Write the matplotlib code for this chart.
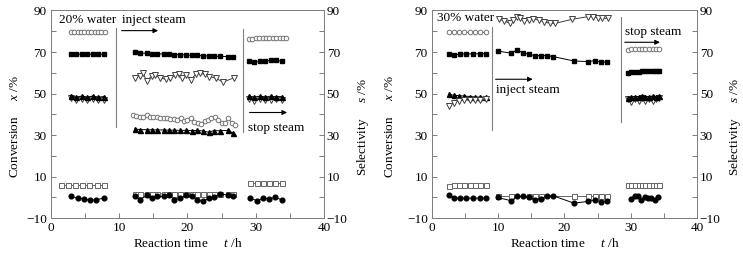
import matplotlib
matplotlib.use('Agg')
import matplotlib.pyplot as plt

plt.rcParams['font.family'] = 'Liberation Serif'
plt.rcParams['font.size'] = 9
plt.rcParams['mathtext.fontset'] = 'custom'
plt.rcParams['mathtext.rm'] = 'Liberation Serif'
plt.rcParams['mathtext.it'] = 'Liberation Serif:italic'

# ---- left panel (20% water) ----
a1_t = [2.9, 3.7, 4.5, 5.3, 6.1, 6.9, 7.8]
a1_sq = [68.9, 68.9, 69.0, 68.9, 69.0, 69.0, 68.9]
a1_tri = [48.8, 48.3, 48.8, 48.3, 48.8, 48.3, 48.6]
a1_dt = [47.8, 47.0, 47.5, 46.8, 47.6, 47.0, 46.8]
a1_oc_t = [2.9, 3.4, 3.9, 4.4, 4.9, 5.4, 5.9, 6.4, 6.9, 7.4, 7.9]
a1_oc = [79.5, 79.5, 79.5, 79.5, 79.5, 79.5, 79.5, 79.5, 79.5, 79.6, 79.6]
a1_osq_t = [1.5, 2.5, 3.5, 4.6, 5.6, 6.7, 7.8]
a1_osq = [6.1, 6.1, 6.1, 6.1, 6.1, 6.1, 6.1]
a1_fc_t = [2.9, 3.9, 4.8, 5.7, 6.6, 7.7]
a1_fc = [0.5, -0.3, -0.6, -1.4, -1.1, -0.3]

a2_t = [12.3, 13.1, 14.0, 14.8, 15.6, 16.5, 17.3, 18.1, 18.9, 19.8,
        20.6, 21.4, 22.3, 23.1, 23.9, 24.7, 25.9, 26.7]
a2_sq = [69.8, 69.5, 69.4, 69.2, 69.2, 69.0, 68.9, 68.8, 68.7, 68.6,
         68.5, 68.4, 68.2, 68.1, 68.0, 67.9, 67.8, 67.4]
a2_tri = [32.9, 32.7, 32.6, 32.6, 32.5, 32.5, 32.4, 32.4, 32.3, 32.3,
          32.2, 32.3, 32.0, 31.4, 32.2, 32.1, 32.3, 31.0]
a2_osq = [1.8, 1.8, 1.8, 1.8, 1.8, 1.8, 1.8, 1.8, 1.8, 1.8,
          1.8, 1.8, 1.8, 1.8, 1.6, 1.5, 1.5, 1.5]
a2_fc = [0.5, -1.1, 1.0, -0.3, 0.5, 0.5, 1.0, -1.1, -0.3, 1.0,
         0.5, -1.1, -1.9, -0.3, 0.3, 1.6, 1.3, 0.5]
a2_dt_t = [12.3, 13.0, 13.5, 14.0, 14.8, 15.3, 16.0, 16.8, 17.5, 18.2, 18.7,
           19.2, 19.8, 20.5, 21.2, 21.9, 22.5, 23.2, 24.2, 25.2, 26.8]
a2_dt = [57.4, 58.6, 59.8, 56.2, 58.5, 59.0, 57.4, 57.0, 57.7, 58.8, 59.5,
         57.7, 59.0, 56.6, 59.3, 59.8, 59.2, 58.2, 57.4, 55.5, 57.6]
a2_oc_t = [12.0, 12.5, 13.0, 13.5, 14.0, 14.5, 15.0, 15.5, 16.0, 16.5, 17.0,
           17.5, 18.0, 18.5, 19.0, 19.5, 20.0, 20.5, 21.0, 21.5, 22.0, 22.5,
           23.0, 23.5, 24.0, 24.5, 25.0, 25.5, 26.0, 26.5, 27.0]
a2_oc = [39.8, 39.3, 38.5, 38.9, 39.6, 38.5, 38.5, 38.5, 38.2, 38.2, 38.2,
         37.8, 37.8, 37.4, 38.2, 36.9, 37.4, 38.2, 36.5, 35.8, 35.4, 36.9,
         37.4, 38.2, 38.5, 37.4, 35.8, 35.8, 38.2, 35.8, 35.0]

a3_t = [29.0, 29.8, 30.6, 31.4, 32.2, 33.0, 33.8]
a3_sq = [65.5, 65.0, 65.6, 65.6, 66.0, 66.0, 65.6]
a3_tri = [48.8, 48.3, 48.8, 48.3, 48.8, 48.3, 48.6]
a3_dt = [47.5, 46.6, 47.5, 46.8, 46.8, 47.5, 47.0]
a3_oc_t = [29.0, 29.5, 30.0, 30.5, 31.0, 31.5, 32.0, 32.5, 33.0, 33.5, 34.0, 34.5]
a3_oc = [76.3, 76.5, 76.6, 76.6, 76.6, 76.6, 76.6, 76.6, 76.6, 76.6, 76.7, 76.7]
a3_b_t = [29.2, 30.2, 31.1, 32.0, 32.9, 33.8]
a3_osq = [6.9, 6.9, 6.9, 6.9, 6.9, 6.9]
a3_fc = [-0.3, -1.6, -0.3, -0.6, 0.0, -1.1]

# ---- right panel (30% water) ----
b1_t = [2.5, 3.3, 4.3, 5.2, 6.2, 7.2, 8.2]
b1_sq = [68.9, 68.7, 69.0, 69.1, 69.1, 69.2, 69.2]
b1_fc = [1.3, -0.3, -0.3, -0.3, -0.3, -0.3, -0.3]
b1_t8 = [2.5, 3.3, 4.1, 4.9, 5.7, 6.5, 7.3, 8.1]
b1_oc = [79.8, 79.8, 79.8, 79.8, 79.8, 79.8, 79.8, 79.8]
b1_tri = [49.7, 49.2, 49.0, 48.8, 48.6, 48.4, 48.3, 48.3]
b1_dt = [44.1, 45.7, 46.5, 46.8, 47.0, 47.0, 47.0, 47.2]
b1_osq = [5.5, 6.1, 6.1, 6.1, 6.1, 6.1, 6.1, 6.1]

b2_t = [9.9, 12.0, 12.8, 13.7, 14.6, 15.5, 16.4, 17.4, 18.3, 21.4, 23.6, 24.6, 25.5, 26.4]
b2_sq = [70.5, 69.4, 71.0, 69.7, 68.9, 68.3, 68.3, 68.3, 67.8, 65.7, 65.4, 65.9, 65.2, 65.2]
b2_fc = [0.0, -1.6, 0.5, 0.5, 0.0, -1.1, -0.6, 0.8, 0.8, -2.7, -1.9, -1.1, -2.2, -1.6]
b2_osq_t = [9.9, 12.0, 14.6, 15.5, 16.4, 21.4, 23.6, 24.6, 25.5, 26.4]
b2_osq = [0.8, 0.8, 0.8, 0.8, 0.8, 0.8, 0.8, 0.8, 0.8, 0.8]
b2_dt_t = [10.1, 10.8, 11.8, 12.3, 12.8, 13.3, 13.9, 14.6, 15.3, 16.1,
           16.9, 17.8, 18.6, 21.2, 23.5, 24.3, 25.0, 25.7, 26.5]
b2_dt = [85.8, 85.1, 83.8, 85.4, 87.0, 86.2, 85.1, 85.4, 85.8, 85.4,
         84.6, 83.8, 83.8, 85.8, 87.0, 87.0, 86.5, 86.2, 86.2]

b3_t = [29.6, 30.1, 30.6, 31.2, 31.7, 32.2, 32.7, 33.3, 33.8, 34.3]
b3_oc = [70.8, 71.3, 71.4, 71.4, 71.4, 71.4, 71.4, 71.4, 71.5, 71.5]
b3_sq = [60.1, 60.4, 60.6, 60.6, 60.7, 60.7, 60.7, 60.7, 60.7, 60.7]
b3_tri = [48.0, 48.3, 48.6, 48.6, 48.8, 48.6, 48.6, 48.8, 48.6, 49.0]
b3_dt = [47.5, 45.8, 47.5, 46.5, 47.8, 46.2, 47.5, 46.2, 47.5, 47.8]
b3_osq = [6.1, 6.1, 6.1, 6.1, 6.1, 6.1, 6.1, 6.1, 6.1, 6.1]
b3_fc_t = [30.1, 30.6, 31.1, 31.6, 32.1, 32.6, 33.1, 33.6, 34.1]
b3_fc = [-0.8, 0.5, 0.8, -1.1, 0.0, -0.3, -0.3, -1.1, 0.0]

styles = {
    'sq': dict(marker='s', mfc='k', mec='k', ms=3.2, color='k'),
    'tri': dict(marker='^', mfc='k', mec='k', ms=3.6, color='k'),
    'fc': dict(marker='o', mfc='k', mec='k', ms=3.4, color='k'),
    'oc': dict(marker='o', mfc='white', mec='0.45', ms=3.3, mew=0.7, color='0.4'),
    'dt': dict(marker='v', mfc='white', mec='0.25', ms=4.2, mew=0.7, color='0.25'),
    'osq': dict(marker='s', mfc='white', mec='0.4', ms=3.6, mew=0.7, color='0.4'),
}


def seg(ax, t, y, kind):
    ax.plot(t, y, lw=0.7, **styles[kind])


def frame(ax):
    ax.set_xlim(0, 40)
    ax.set_ylim(-10, 90)
    ax.set_xticks([0, 10, 20, 30, 40])
    ax.set_xticks([5, 15, 25, 35], minor=True)
    ax.set_yticks([-10, 10, 30, 50, 70, 90])
    ax.set_yticks([0, 20, 40, 60, 80], minor=True)
    ax.tick_params(which='both', direction='in', length=3.5, width=0.6,
                   color='0.4', labelsize=9.5, pad=3)
    for s in ax.spines.values():
        s.set_color('0.5')
        s.set_linewidth(0.7)
    ax.set_xlabel('Reaction time     $t$ /h', labelpad=2, fontsize=9.5)
    ax.set_ylabel('Conversion     $x$ /%', fontsize=9.5)
    ax2 = ax.twinx()
    ax2.set_ylim(-10, 90)
    ax2.set_yticks([-10, 10, 30, 50, 70, 90])
    ax2.set_yticks([0, 20, 40, 60, 80], minor=True)
    ax2.tick_params(which='both', direction='in', length=3.5, width=0.6,
                    color='0.4', labelsize=9.5, pad=2)
    for s in ax2.spines.values():
        s.set_color('0.5')
        s.set_linewidth(0.7)
    ax2.set_ylabel('Selectivity     $s$ /%', fontsize=9.5)
    return ax2


def arrow(ax, x0, x1, y):
    ax.annotate('', xy=(x1, y), xytext=(x0, y),
                arrowprops=dict(arrowstyle='-|>', color='k', lw=0.8,
                                mutation_scale=7, shrinkA=0, shrinkB=0))


fig = plt.figure(figsize=(7.43, 2.58), dpi=100)
axa = fig.add_axes([0.0686, 0.154, 0.3674, 0.8054])
axb = fig.add_axes([0.5814, 0.154, 0.3567, 0.8054])
axa2 = frame(axa)
axb2 = frame(axb)
axa.yaxis.set_label_coords(-0.11, 0.44)
axb.yaxis.set_label_coords(-0.135, 0.44)
axa2.yaxis.set_label_coords(1.115, 0.44)
axb2.yaxis.set_label_coords(1.115, 0.44)

# left panel
seg(axa, a1_oc_t, a1_oc, 'oc')
seg(axa, a1_t, a1_sq, 'sq')
seg(axa, a1_t, a1_dt, 'dt')
seg(axa, a1_t, a1_tri, 'tri')
seg(axa, a1_osq_t, a1_osq, 'osq')
seg(axa, a1_fc_t, a1_fc, 'fc')
seg(axa, a2_t, a2_sq, 'sq')
seg(axa, a2_dt_t, a2_dt, 'dt')
seg(axa, a2_oc_t, a2_oc, 'oc')
seg(axa, a2_t, a2_tri, 'tri')
seg(axa, a2_t, a2_osq, 'osq')
seg(axa, a2_t, a2_fc, 'fc')
seg(axa, a3_oc_t, a3_oc, 'oc')
seg(axa, a3_t, a3_sq, 'sq')
seg(axa, a3_t, a3_dt, 'dt')
seg(axa, a3_t, a3_tri, 'tri')
seg(axa, a3_b_t, a3_osq, 'osq')
seg(axa, a3_b_t, a3_fc, 'fc')

axa.plot([9.6, 9.6], [81.6, 34.0], color='0.5', lw=0.8)
axa.plot([28.2, 28.2], [81.0, 31.6], color='0.5', lw=0.8)
axa.text(1.2, 85.4, '20% water', ha='left', va='center', fontsize=9.5)
axa.text(10.35, 85.6, 'inject steam', ha='left', va='center', fontsize=9.5)
arrow(axa, 10.35, 15.7, 80.3)
axa.text(28.9, 33.5, 'stop steam', ha='left', va='center', fontsize=9.5)
arrow(axa, 29.1, 34.6, 40.9)

# right panel
seg(axb, b1_t8, b1_oc, 'oc')
seg(axb, b1_t, b1_sq, 'sq')
seg(axb, b1_t8, b1_tri, 'tri')
seg(axb, b1_t8, b1_dt, 'dt')
seg(axb, b1_t8, b1_osq, 'osq')
seg(axb, b1_t, b1_fc, 'fc')
seg(axb, b2_dt_t, b2_dt, 'dt')
seg(axb, b2_t, b2_sq, 'sq')
seg(axb, b2_osq_t, b2_osq, 'osq')
seg(axb, b2_t, b2_fc, 'fc')
seg(axb, b3_t, b3_oc, 'oc')
seg(axb, b3_t, b3_sq, 'sq')
seg(axb, b3_t, b3_dt, 'dt')
seg(axb, b3_t, b3_tri, 'tri')
seg(axb, b3_t, b3_osq, 'osq')
seg(axb, b3_fc_t, b3_fc, 'fc')

axb.plot([9.0, 9.0], [82.2, 32.5], color='0.5', lw=0.8)
axb.plot([28.5, 28.5], [87.0, 36.5], color='0.5', lw=0.8)
axb.text(0.7, 86.2, '30% water', ha='left', va='center', fontsize=9.5)
axb.text(9.6, 51.8, 'inject steam', ha='left', va='center', fontsize=9.5)
arrow(axb, 9.6, 15.2, 56.9)
axb.text(29.1, 79.8, 'stop steam', ha='left', va='center', fontsize=9.5)
arrow(axb, 29.1, 34.4, 74.7)

fig.savefig('out.png', dpi=100)
